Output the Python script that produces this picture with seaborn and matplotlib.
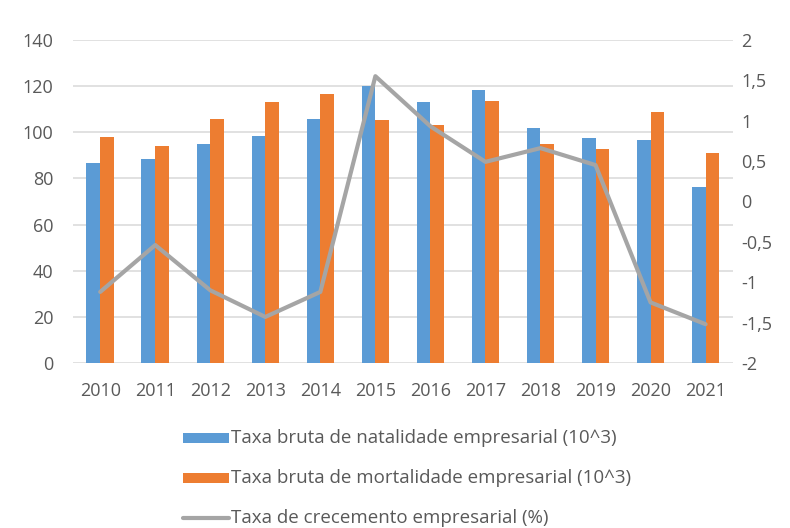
import numpy as np
import pandas as pd
import matplotlib
matplotlib.use("Agg")
import matplotlib.pyplot as plt
import seaborn as sns
from matplotlib.patches import Rectangle
from matplotlib.lines import Line2D

years = ["2010", "2011", "2012", "2013", "2014", "2015",
         "2016", "2017", "2018", "2019", "2020", "2021"]
natalidade = [86.5, 88.4, 95.0, 98.5, 105.7, 120.2, 113.0, 118.3, 101.7, 97.5, 96.5, 76.1]
mortalidade = [97.9, 93.9, 105.7, 113.0, 116.6, 105.3, 103.1, 113.5, 95.0, 92.9, 108.9, 91.0]
crecemento = [-1.12, -0.54, -1.10, -1.43, -1.12, 1.55, 0.93, 0.49, 0.66, 0.45, -1.25, -1.52]

lab_nat = "Taxa bruta de natalidade empresarial (10^3)"
lab_mor = "Taxa bruta de mortalidade empresarial (10^3)"
lab_cre = "Taxa de crecemento empresarial (%)"

left_ticks = [0, 20, 40, 60, 80, 100, 120, 140]
right_ticks = [-2, -1.5, -1, -0.5, 0, 0.5, 1, 1.5, 2]
right_labels = ["-2", "-1,5", "-1", "-0,5", "0", "0,5", "1", "1,5", "2"]

c_blue = "#5b9bd5"
c_orange = "#ed7d31"
c_gray = "#a5a5a5"
c_text = "#595959"
c_grid = "#d9d9d9"

sns.set_theme(style="white")
plt.rcParams["font.family"] = ["Open Sans", "DejaVu Sans"]

df = pd.DataFrame({
    "ano": years * 2,
    "valor": natalidade + mortalidade,
    "serie": [lab_nat] * len(years) + [lab_mor] * len(years),
})

fig = plt.figure(figsize=(7.9, 5.28), dpi=100)
ax = fig.add_axes([0.092, 0.3125, 0.836, 0.612])

sns.barplot(data=df, x="ano", y="valor", hue="serie", order=years,
            palette=[c_blue, c_orange], width=0.5, saturation=1,
            errorbar=None, ax=ax, legend=False, zorder=2, linewidth=0)

ax.set_ylim(0, 140)
ax.set_yticks(left_ticks)
ax.set_xlim(-0.5, len(years) - 0.5)
ax.grid(axis="y", color=c_grid, linewidth=1.1, zorder=0)
ax.set_axisbelow(True)
for s in ax.spines.values():
    s.set_visible(False)
ax.set_xlabel("")
ax.set_ylabel("")
ax.tick_params(axis="both", length=0, labelsize=13, colors=c_text)
ax.tick_params(axis="x", pad=14)
ax.tick_params(axis="y", pad=14)

ax2 = ax.twinx()
sns.lineplot(x=np.arange(len(years)), y=crecemento, color=c_gray,
             linewidth=3.0, ax=ax2, zorder=3)
ax2.set_ylim(-2, 2)
ax2.set_yticks(right_ticks)
ax2.set_yticklabels(right_labels)
for s in ax2.spines.values():
    s.set_visible(False)
ax2.tick_params(axis="y", length=0, labelsize=13, colors=c_text, pad=6)
ax2.grid(False)

# legend rows below the chart
rows = [
    ("patch", c_blue, lab_nat, 0.170),
    ("patch", c_orange, lab_mor, 0.0947),
    ("line", c_gray, lab_cre, 0.0189),
]
x0, x1 = 183 / 790, 229 / 790
for kind, col, text, yc in rows:
    if kind == "patch":
        fig.add_artist(Rectangle((x0, yc - 0.0095), x1 - x0, 0.019,
                                 transform=fig.transFigure, color=col, lw=0))
    else:
        fig.add_artist(Line2D([x0, x1], [yc, yc], transform=fig.transFigure,
                              color=col, linewidth=3.0))
    fig.text(x1 + 0.003, yc, text, ha="left", va="center",
             fontsize=13.5, color=c_text)

fig.savefig("out.png", dpi=100, facecolor="white")
